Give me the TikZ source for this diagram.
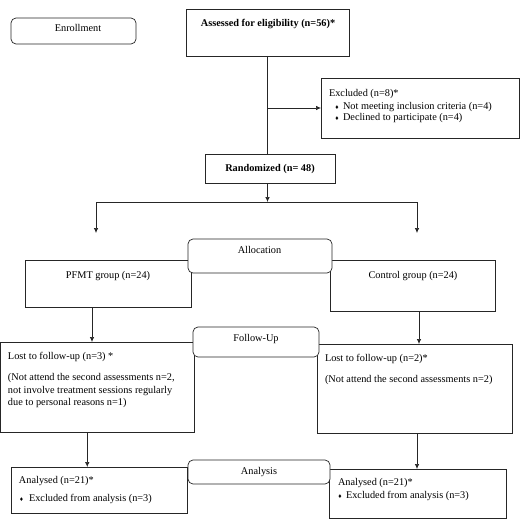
\documentclass[tikz,border=0pt]{standalone}
\usepackage{fontspec}
\setmainfont{Liberation Serif}
\usetikzlibrary{arrows.meta}
\begin{document}
\begin{tikzpicture}[x=1pt,y=-1pt,
  box/.style={draw=black!85,line width=0.7pt,rectangle,inner sep=0pt,outer sep=0pt},
  hdr/.style={box,rounded corners=5pt,fill=white},
  txt/.style={inner sep=0pt,outer sep=0pt,font=\fontsize{10.3}{12.5}\selectfont},
  bul/.style={inner sep=0pt,outer sep=0pt,font=\fontsize{6.5}{7}\selectfont},
  ln/.style={draw=black!85,line width=0.7pt},
  arr/.style={ln,-{Latex[length=5pt,width=4.5pt]}}]
\useasboundingbox (0,0) rectangle (520,519);
% boxes
\node[box,minimum width=163pt,minimum height=47pt] (assessed) at (267.5,32.5) {};
\node[box,minimum width=198pt,minimum height=60pt] (excluded) at (420,108) {};
\node[box,minimum width=130pt,minimum height=29pt] (randomized) at (270,168.5) {};
\node[box,minimum width=166pt,minimum height=47pt] (pfmt) at (108,283.5) {};
\node[box,minimum width=165pt,minimum height=51pt] (control) at (412.5,285.5) {};
\node[box,minimum width=193.5pt,minimum height=90pt] (lostL) at (97.25,387) {};
\node[box,minimum width=195pt,minimum height=89pt] (lostR) at (414.5,388.5) {};
\node[box,minimum width=176pt,minimum height=46pt] (anaL) at (99,490) {};
\node[box,minimum width=177pt,minimum height=49pt] (anaR) at (417.5,493.5) {};
% rounded headers
\node[hdr,minimum width=125pt,minimum height=26pt] (enroll) at (73.5,31) {};
\node[hdr,minimum width=144pt,minimum height=34pt] (alloc) at (260,256) {};
\node[hdr,minimum width=126pt,minimum height=30pt] (follow) at (256,342) {};
\node[hdr,minimum width=142pt,minimum height=24pt] (analysis) at (259,472) {};
% texts
\node[txt,anchor=mid] (tenroll) at (78,29) {Enrollment};
\node[txt,anchor=mid,font=\fontsize{10.3}{12.5}\selectfont\bfseries] (tassessed) at (268,24) {Assessed for eligibility (n=56)*};
\node[txt,anchor=mid west] (tex1) at (329,94) {Excluded (n=8)*};
\node[bul,anchor=mid] (bex2) at (337,107) {♦};
\node[txt,anchor=mid west] (tex2) at (343,107) {Not meeting inclusion criteria (n=4)};
\node[bul,anchor=mid] (bex3) at (337,118) {♦};
\node[txt,anchor=mid west] (tex3) at (343,118) {Declined to participate (n=4)};
\node[txt,anchor=mid,font=\fontsize{10.3}{12.5}\selectfont\bfseries] (trand) at (270,169) {Randomized (n= 48)};
\node[txt,anchor=mid] (talloc) at (259.5,251) {Allocation};
\node[txt,anchor=mid] (tpfmt) at (108,276) {PFMT group (n=24)};
\node[txt,anchor=mid] (tcontrol) at (413,276) {Control group (n=24)};
\node[txt,anchor=mid] (tfollow) at (256,339) {Follow-Up};
\node[txt,anchor=mid west] (tl1) at (8,357) {Lost to follow-up (n=3) *};
\node[txt,anchor=mid west] (tl2) at (8,378) {(Not attend the second assessments n=2,};
\node[txt,anchor=mid west] (tl3) at (8,391) {not involve treatment sessions regularly};
\node[txt,anchor=mid west] (tl4) at (8,403) {due to personal reasons n=1)};
\node[txt,anchor=mid west] (tr1) at (325,359) {Lost to follow-up (n=2)*};
\node[txt,anchor=mid west] (tr2) at (325,380) {(Not attend the second assessments n=2)};
\node[txt,anchor=mid] (tanalysis) at (259,472) {Analysis};
\node[txt,anchor=mid west] (tal1) at (19,481) {Analysed (n=21)*};
\node[bul,anchor=mid] (bal2) at (21.5,499) {♦};
\node[txt,anchor=mid west] (tal2) at (29,499) {Excluded from analysis (n=3)};
\node[txt,anchor=mid west] (tar1) at (338,483) {Analysed (n=21)*};
\node[bul,anchor=mid] (bar2) at (340,496) {♦};
\node[txt,anchor=mid west] (tar2) at (346,496) {Excluded from analysis (n=3)};
% connectors
\coordinate (exsplit) at (assessed.south |- excluded.west);
\coordinate (split) at (267.5,202);
\coordinate (lsplit) at (96,202);
\coordinate (rsplit) at (417,202);
\coordinate (lend) at (96,233);
\coordinate (rend) at (417,233);
\draw[ln] (assessed.south) -- (assessed.south |- randomized.north);
\draw[arr] (exsplit) -- (excluded.west);
\draw[arr] (assessed.south |- randomized.south) -- (split);
\draw[ln] (lsplit) -- (rsplit);
\draw[arr] (lsplit) -- (lend);
\draw[arr] (rsplit) -- (rend);
\draw[arr] ([xshift=-16pt]pfmt.south) -- ([xshift=-16pt]pfmt.south |- lostL.north);
\draw[arr] ([xshift=6.5pt]control.south) -- ([xshift=6.5pt]control.south |- lostR.north);
\draw[arr] ([xshift=-10pt]lostL.south) -- ([xshift=-10pt]lostL.south |- anaL.north);
\draw[arr] ([xshift=2.5pt]lostR.south) -- ([xshift=2.5pt]lostR.south |- anaR.north);
\end{tikzpicture}
\end{document}
